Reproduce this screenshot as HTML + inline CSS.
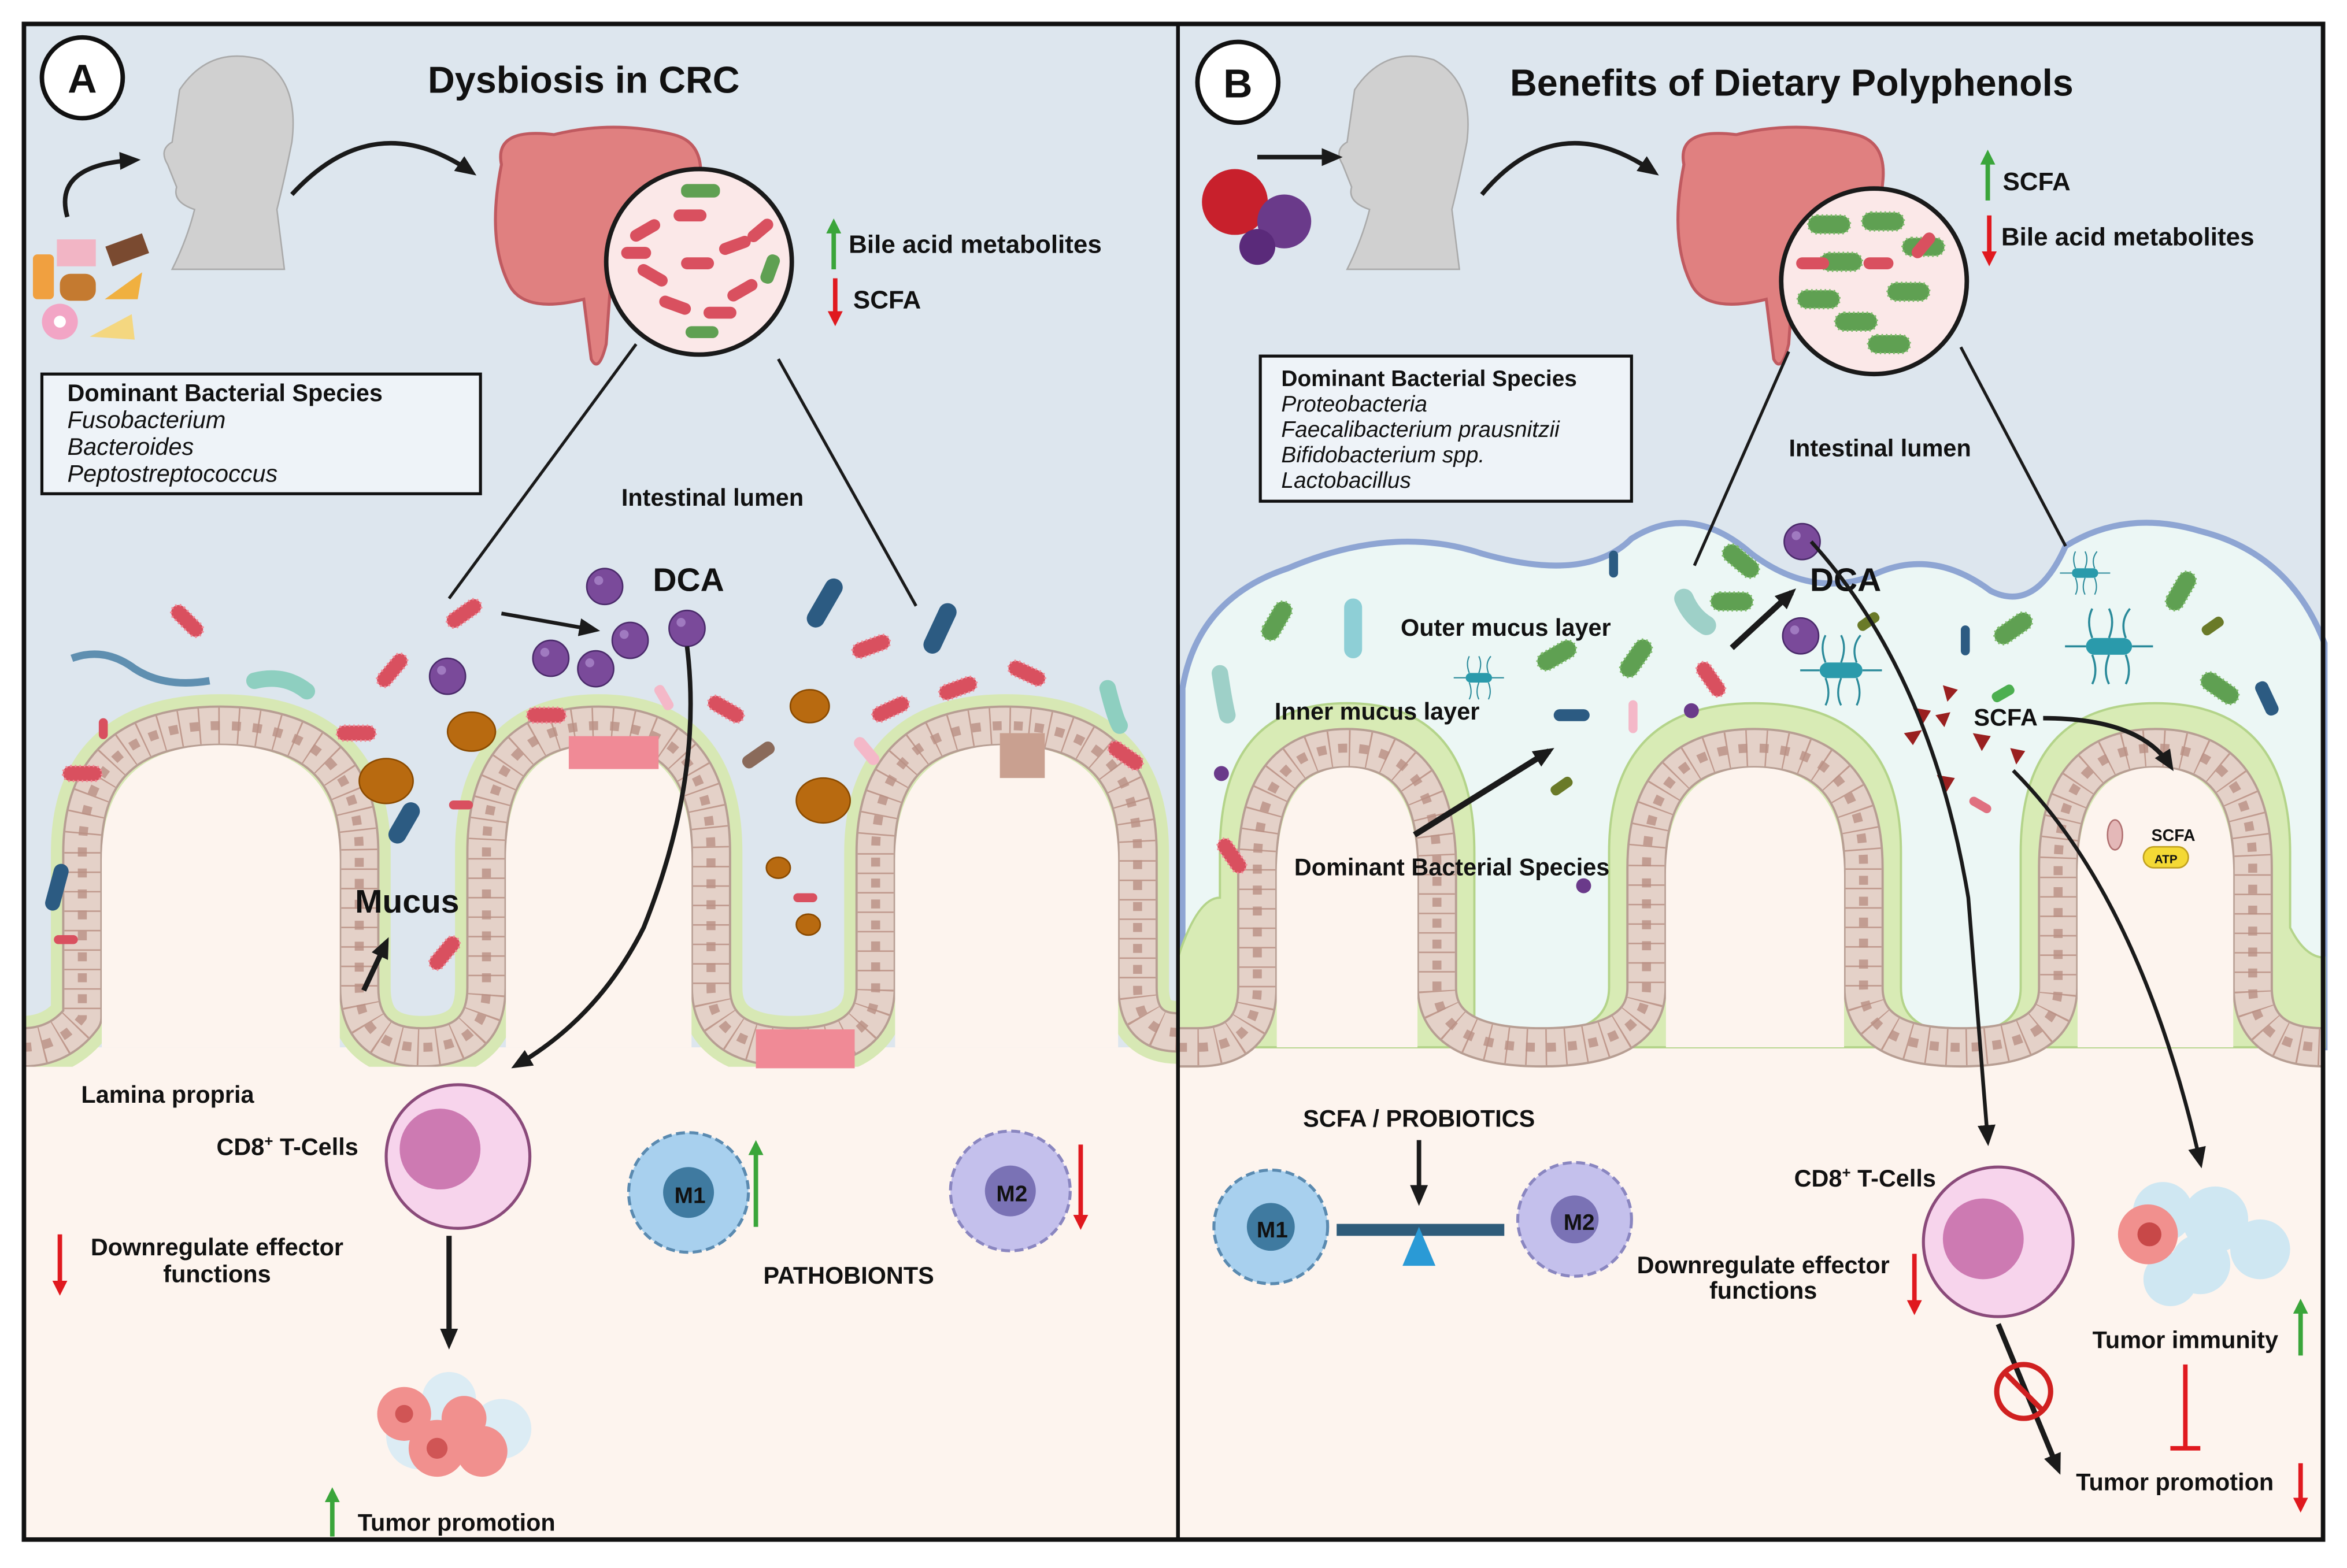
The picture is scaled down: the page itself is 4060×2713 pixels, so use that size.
<!DOCTYPE html>
<html><head><meta charset="utf-8"><style>
html,body{margin:0;padding:0;background:#fff}
svg{display:block}
text{font-family:"Liberation Sans",sans-serif;font-weight:bold;fill:#111}
</style></head><body>
<svg width="4060" height="2713" viewBox="0 0 1568 1048" preserveAspectRatio="none" xmlns="http://www.w3.org/2000/svg">
<defs>
<marker id="ah" markerWidth="14" markerHeight="12" refX="10" refY="6" orient="auto" markerUnits="userSpaceOnUse"><path d="M0,0 L14,6 L0,12 Z" fill="#1a1a1a"/></marker>
<marker id="ahG" markerWidth="10" markerHeight="10" refX="6" refY="5" orient="auto" markerUnits="userSpaceOnUse"><path d="M0,0 L10,5 L0,10 Z" fill="#3aa53a"/></marker>
<marker id="ahR" markerWidth="10" markerHeight="10" refX="6" refY="5" orient="auto" markerUnits="userSpaceOnUse"><path d="M0,0 L10,5 L0,10 Z" fill="#e0191f"/></marker>
<path id="tA" d="M15,700 Q40,700 55,680 L55,570 Q55,485 147,485 Q240,485 240,570 L240,660 Q240,700 282,700 Q325,700 325,660 L325,570 Q325,485 400,485 Q475,485 475,570 L475,660 Q475,700 530,700 Q585,700 585,660 L585,570 Q585,485 672,485 Q760,485 760,570 L760,660 Q760,690 787,690"/>
<path id="tB" d="M787,700 L800,700 Q840,700 840,660 L840,580 Q840,500 900,500 Q960,500 960,580 L960,660 Q960,700 1030,700 Q1100,700 1100,660 L1100,580 Q1100,500 1172,500 Q1245,500 1245,580 L1245,660 Q1245,700 1310,700 Q1375,700 1375,660 L1375,580 Q1375,500 1440,500 Q1505,500 1505,580 L1505,660 Q1505,700 1553,700"/>
<g id="rr"><rect x="-13" y="-5" width="26" height="10" rx="5" fill="#d9505f" stroke="#f08a96" stroke-width="1.5" stroke-dasharray="1 2"/></g>
<g id="gr"><rect x="-14" y="-6" width="28" height="12" rx="6" fill="#5fa052" stroke="#7dbb6a" stroke-width="1.5" stroke-dasharray="1 2"/></g>
<g id="br"><rect x="-12" y="-4" width="24" height="8" rx="4" fill="#2c5b82"/></g>
<g id="tc"><rect x="-11" y="-4" width="22" height="8" rx="4" fill="#2a9aab"/><path d="M-8,-4 q-3,-8 0,-14 M0,-4 q3,-8 0,-14 M8,-4 q-3,-8 2,-14 M-8,4 q3,8 0,14 M0,4 q-3,8 0,14 M8,4 q3,8 0,14 M-11,0 h-10 M11,0 h10" stroke="#2a8a9a" stroke-width="1" fill="none"/></g>
<g id="ps"><circle r="12" fill="#7a4a9a" stroke="#4a2a6a" stroke-width="1"/><circle cx="-4" cy="-4" r="3" fill="#a07ac0"/></g>
</defs>
<rect width="1568" height="1048" fill="#fff"/>
<rect x="15" y="15" width="772" height="1015" fill="#dde6ee"/>
<rect x="15" y="700" width="772" height="330" fill="#fdf4ee"/>
<rect x="787" y="15" width="766" height="1015" fill="#dde6ee"/>
<path d="M790,460 Q800,400 860,380 Q930,350 990,370 Q1060,390 1090,360 Q1130,335 1170,370 Q1210,400 1250,385 Q1290,365 1330,395 Q1360,410 1380,365 Q1420,340 1470,355 Q1530,370 1553,430 L1553,700 L790,700 Z" fill="#ecf7f5" stroke="#8ea5d3" stroke-width="4"/>
<rect x="787" y="700" width="766" height="330" fill="#fdf4ee"/>

<!-- Tissue A -->
<g fill="none" stroke-linejoin="round">
<use href="#tA" stroke="#d7e8b4" stroke-width="42"/>
<use href="#tA" stroke="#b79e93" stroke-width="27"/>
<use href="#tA" stroke="#e4d1c8" stroke-width="24"/>
<use href="#tA" stroke="#c09a8e" stroke-width="24" stroke-dasharray="1 12"/>
<use href="#tA" stroke="#b99085" stroke-width="6" stroke-dasharray="6 8" opacity=".8"/>
</g>
<path d="M68,700 L68,575 Q68,498 147,498 Q227,498 227,575 L227,700 Z M338,700 L338,575 Q338,498 400,498 Q462,498 462,575 L462,700 Z M598,700 L598,575 Q598,498 672,498 Q747,498 747,575 L747,700 Z" fill="#fdf4ee"/>
<rect x="15" y="713" width="772" height="10" fill="#fdf4ee"/>
<!-- Tissue B -->
<path d="M787,700 L787,640 Q800,600 815,600 L815,570 Q815,470 900,470 Q985,470 985,570 L985,680 Q985,690 1030,690 Q1075,690 1075,660 L1075,570 Q1075,470 1172,470 Q1270,470 1270,570 L1270,660 Q1270,690 1310,690 Q1350,690 1350,660 L1350,570 Q1350,470 1440,470 Q1530,470 1530,570 L1530,620 Q1540,640 1553,640 L1553,700 Z" fill="#d8ebb5" stroke="#b4d48a" stroke-width="1.5"/>
<g fill="none" stroke-linejoin="round">
<use href="#tB" stroke="#b79e93" stroke-width="27"/>
<use href="#tB" stroke="#e4d1c8" stroke-width="24"/>
<use href="#tB" stroke="#c09a8e" stroke-width="24" stroke-dasharray="1 12"/>
<use href="#tB" stroke="#b99085" stroke-width="6" stroke-dasharray="6 8" opacity=".8"/>
</g>
<path d="M853,700 L853,585 Q853,513 900,513 Q947,513 947,585 L947,700 Z M1113,700 L1113,585 Q1113,513 1172,513 Q1232,513 1232,585 L1232,700 Z M1388,700 L1388,585 Q1388,513 1440,513 Q1492,513 1492,585 L1492,700 Z" fill="#fdf4ee"/>
<rect x="787" y="714" width="766" height="10" fill="#fdf4ee"/>

<!-- Heads -->
<g fill="#d0d0d0" stroke="#aaa" stroke-width="1">
<path d="M120,60 Q140,30 175,40 Q200,55 195,95 Q190,120 185,140 L190,180 L115,180 Q125,160 130,140 Q115,135 118,125 L112,110 Q106,100 115,95 Z"/>
<path d="M905,60 Q925,30 958,40 Q985,55 980,95 Q975,120 970,140 L975,180 L900,180 Q910,160 915,140 Q900,135 903,125 L897,110 Q891,100 900,95 Z"/>
</g>
<path d="M45,145 Q35,110 90,107" fill="none" stroke="#1a1a1a" stroke-width="3" marker-end="url(#ah)"/>
<path d="M195,130 Q250,70 315,115" fill="none" stroke="#1a1a1a" stroke-width="3" marker-end="url(#ah)"/>
<path d="M840,105 L893,105" stroke="#1a1a1a" stroke-width="3" marker-end="url(#ah)"/>
<path d="M990,130 Q1040,70 1105,115" fill="none" stroke="#1a1a1a" stroke-width="3" marker-end="url(#ah)"/>
<g><rect x="22" y="170" width="14" height="30" rx="3" fill="#f0a040"/><rect x="38" y="160" width="26" height="18" fill="#f2b5c5"/><rect x="72" y="160" width="26" height="14" fill="#7a4a30" transform="rotate(-20 85 167)"/><rect x="40" y="183" width="24" height="18" rx="7" fill="#c47a30"/><path d="M70,200 L95,182 L92,200 Z" fill="#f0b040"/><circle cx="40" cy="215" r="12" fill="#f2a5c5"/><circle cx="40" cy="215" r="4" fill="#fff"/><path d="M60,225 L88,210 L90,227 Z" fill="#f4d780"/></g>
<g><circle cx="825" cy="135" r="22" fill="#c8202c"/><circle cx="858" cy="148" r="18" fill="#6a3a8a"/><circle cx="840" cy="165" r="12" fill="#5a2a7a"/></g>
<path d="M335,110 Q330,85 370,90 Q410,80 450,90 Q470,95 468,120 L465,150 Q420,150 410,160 L405,230 Q400,250 395,240 L390,200 Q350,210 340,190 Q325,160 335,110 Z" fill="#e08080" stroke="#c05a60" stroke-width="2"/>
<path d="M1125,110 Q1120,85 1160,90 Q1200,80 1240,90 Q1260,95 1258,120 L1255,150 Q1210,150 1200,160 L1195,230 Q1190,250 1185,240 L1180,200 Q1140,210 1130,190 Q1115,160 1125,110 Z" fill="#e08080" stroke="#c05a60" stroke-width="2"/>
<path d="M425,230 L300,400 M520,240 L612,405" stroke="#1a1a1a" stroke-width="2" fill="none"/>
<path d="M1195,235 L1132,378 M1310,232 L1380,365" stroke="#1a1a1a" stroke-width="2" fill="none"/>
<circle cx="467" cy="175" r="62" fill="#fbe8e8" stroke="#1a1a1a" stroke-width="3"/>
<g fill="#d9505f"><rect x="420" y="150" width="22" height="8" rx="4" transform="rotate(-30 431 154)"/><rect x="450" y="140" width="22" height="8" rx="4"/><rect x="480" y="160" width="22" height="8" rx="4" transform="rotate(-20 491 164)"/><rect x="425" y="180" width="22" height="8" rx="4" transform="rotate(30 436 184)"/><rect x="455" y="172" width="22" height="8" rx="4"/><rect x="485" y="190" width="22" height="8" rx="4" transform="rotate(-30 496 194)"/><rect x="440" y="200" width="22" height="8" rx="4" transform="rotate(20 451 204)"/><rect x="470" y="205" width="22" height="8" rx="4"/><rect x="415" y="165" width="20" height="8" rx="4"/><rect x="498" y="150" width="20" height="8" rx="4" transform="rotate(-40 508 154)"/></g>
<rect x="455" y="123" width="26" height="9" rx="4" fill="#5fa052"/><rect x="505" y="175" width="20" height="9" rx="4" fill="#5fa052" transform="rotate(-70 515 180)"/><rect x="458" y="218" width="22" height="8" rx="4" fill="#5fa052"/>
<circle cx="1252" cy="188" r="62" fill="#fbe8e8" stroke="#1a1a1a" stroke-width="3"/>
<use href="#gr" x="1222" y="150"/><use href="#gr" x="1258" y="148"/><use href="#gr" x="1230" y="175"/><use href="#gr" x="1275" y="195"/><use href="#gr" x="1240" y="215"/><use href="#gr" x="1285" y="165"/><use href="#gr" x="1215" y="200"/><use href="#gr" x="1262" y="230"/>
<rect x="1200" y="172" width="22" height="8" rx="4" fill="#d9505f"/><rect x="1245" y="172" width="20" height="8" rx="4" fill="#d9505f"/><rect x="1275" y="160" width="20" height="8" rx="4" fill="#d9505f" transform="rotate(-50 1285 164)"/>

<circle cx="55" cy="52" r="27" fill="#fff" stroke="#111" stroke-width="3"/><text x="55" y="62" font-size="27" text-anchor="middle">A</text>
<circle cx="827" cy="55" r="27" fill="#fff" stroke="#111" stroke-width="3"/><text x="827" y="65" font-size="27" text-anchor="middle">B</text>
<text x="390" y="62" font-size="25" text-anchor="middle">Dysbiosis in CRC</text>
<text x="1197" y="64" font-size="25" text-anchor="middle">Benefits of Dietary Polyphenols</text>

<g stroke-width="3">
<path d="M557,180 L557,150" stroke="#3aa53a" marker-end="url(#ahG)"/>
<path d="M558,186 L558,214" stroke="#e0191f" marker-end="url(#ahR)"/>
<path d="M1328,134 L1328,104" stroke="#3aa53a" marker-end="url(#ahG)"/>
<path d="M1329,144 L1329,174" stroke="#e0191f" marker-end="url(#ahR)"/>
<path d="M40,825 L40,862" stroke="#e0191f" marker-end="url(#ahR)"/>
<path d="M505,820 L505,766" stroke="#3aa53a" marker-end="url(#ahG)"/>
<path d="M722,765 L722,818" stroke="#e0191f" marker-end="url(#ahR)"/>
<path d="M222,1027 L222,998" stroke="#3aa53a" marker-end="url(#ahG)"/>
<path d="M1279,838 L1279,875" stroke="#e0191f" marker-end="url(#ahR)"/>
<path d="M1537,906 L1537,872" stroke="#3aa53a" marker-end="url(#ahG)"/>
<path d="M1537,978 L1537,1007" stroke="#e0191f" marker-end="url(#ahR)"/>
</g>
<text x="567" y="169" font-size="17">Bile acid metabolites</text>
<text x="570" y="206" font-size="17">SCFA</text>
<text x="1338" y="127" font-size="17">SCFA</text>
<text x="1337" y="164" font-size="17">Bile acid metabolites</text>

<rect x="28" y="250" width="293" height="80" fill="#eef3f8" stroke="#111" stroke-width="2"/>
<text x="45" y="268" font-size="16">Dominant Bacterial Species</text>
<g font-size="16"><text x="45" y="286" style="font-weight:normal;font-style:italic">Fusobacterium</text><text x="45" y="304" style="font-weight:normal;font-style:italic">Bacteroides</text><text x="45" y="322" style="font-weight:normal;font-style:italic">Peptostreptococcus</text></g>
<rect x="842" y="238" width="248" height="97" fill="#eef3f8" stroke="#111" stroke-width="2"/>
<text x="856" y="258" font-size="15">Dominant Bacterial Species</text>
<g font-size="15"><text x="856" y="275" style="font-weight:normal;font-style:italic">Proteobacteria</text><text x="856" y="292" style="font-weight:normal;font-style:italic">Faecalibacterium prausnitzii</text><text x="856" y="309" style="font-weight:normal;font-style:italic">Bifidobacterium spp.</text><text x="856" y="326" style="font-weight:normal;font-style:italic">Lactobacillus</text></g>

<text x="476" y="338" font-size="16" text-anchor="middle">Intestinal lumen</text>
<text x="1256" y="305" font-size="16" text-anchor="middle">Intestinal lumen</text>

<!-- A bacteria -->
<use href="#rr" transform="translate(125,415) rotate(45)"/><use href="#rr" transform="translate(262,448) rotate(-50)"/><use href="#rr" transform="translate(310,410) rotate(-35)"/><use href="#rr" transform="translate(238,490)"/><use href="#rr" transform="translate(55,517)"/><use href="#rr" transform="translate(365,478)"/><use href="#rr" transform="translate(485,474) rotate(30)"/><use href="#rr" transform="translate(595,474) rotate(-25)"/><use href="#rr" transform="translate(640,460) rotate(-20)"/><use href="#rr" transform="translate(582,432) rotate(-20)"/><use href="#rr" transform="translate(686,450) rotate(25)"/><use href="#rr" transform="translate(752,505) rotate(35)"/><use href="#rr" transform="translate(297,637) rotate(-50)"/>
<rect x="66" y="480" width="6" height="14" rx="3" fill="#d9505f"/><rect x="36" y="625" width="16" height="6" rx="3" fill="#d9505f"/><rect x="530" y="597" width="16" height="6" rx="3" fill="#d9505f"/><rect x="300" y="535" width="16" height="6" rx="3" fill="#d9505f"/>
<rect x="380" y="492" width="60" height="22" fill="#f08a96"/>
<rect x="505" y="688" width="66" height="26" fill="#f08a96"/>
<rect x="668" y="490" width="30" height="30" fill="#c9a090"/>
<g fill="#2c5b82"><rect x="-6" y="-18" width="12" height="36" rx="6" transform="translate(551,403) rotate(30)"/><rect x="-6" y="-18" width="12" height="36" rx="6" transform="translate(628,420) rotate(25)"/><rect x="-6" y="-15" width="12" height="30" rx="6" transform="translate(270,550) rotate(30)"/><rect x="-5" y="-16" width="10" height="32" rx="5" transform="translate(38,593) rotate(15)"/></g>
<path d="M48,440 Q70,432 90,447 Q110,460 140,455" fill="none" stroke="#5f8fb0" stroke-width="5"/>
<path d="M170,455 Q190,450 205,462" fill="none" stroke="#8ecfc0" stroke-width="11" stroke-linecap="round"/>
<path d="M740,460 Q745,480 748,485" fill="none" stroke="#8ecfc0" stroke-width="11" stroke-linecap="round"/>
<rect x="495" y="500" width="24" height="9" rx="4" fill="#8a6a5a" transform="rotate(-35 507 505)"/>
<rect x="568" y="498" width="22" height="8" rx="4" fill="#f4b8c8" transform="rotate(50 579 502)"/>
<rect x="435" y="463" width="18" height="7" rx="3" fill="#f4b8c8" transform="rotate(60 444 466)"/>
<g fill="#b86a10" stroke="#8a4a00"><ellipse cx="315" cy="489" rx="16" ry="13"/><ellipse cx="258" cy="522" rx="18" ry="15"/><ellipse cx="550" cy="535" rx="18" ry="15"/><ellipse cx="541" cy="472" rx="13" ry="11"/><ellipse cx="520" cy="580" rx="8" ry="7"/><ellipse cx="540" cy="618" rx="8" ry="7"/></g>
<use href="#ps" x="404" y="392"/><use href="#ps" x="299" y="452"/><use href="#ps" x="368" y="440"/><use href="#ps" x="398" y="447"/><use href="#ps" x="421" y="428"/><use href="#ps" x="459" y="420"/>
<text x="460" y="395" font-size="22" text-anchor="middle">DCA</text>
<path d="M335,410 L397,421" stroke="#1a1a1a" stroke-width="2.5" marker-end="url(#ah)"/>
<path d="M459,432 Q470,520 430,620 Q400,680 345,712" fill="none" stroke="#1a1a1a" stroke-width="3" marker-end="url(#ah)"/>
<text x="272" y="610" font-size="22" text-anchor="middle">Mucus</text>
<path d="M243,662 L258,630" stroke="#1a1a1a" stroke-width="3.5" marker-end="url(#ah)"/>

<text x="112" y="737" font-size="16" text-anchor="middle">Lamina propria</text>
<text x="192" y="772" font-size="16" text-anchor="middle">CD8<tspan font-size="10" dy="-6">+</tspan><tspan dy="6"> T-Cells</tspan></text>
<circle cx="306" cy="773" r="48" fill="#f7d4ec" stroke="#8a4a7a" stroke-width="2"/>
<circle cx="294" cy="768" r="27" fill="#cd7ab2"/>
<path d="M300,826 L300,898" stroke="#1a1a1a" stroke-width="3.5" marker-end="url(#ah)"/>
<text x="145" y="839" font-size="16" text-anchor="middle">Downregulate effector</text>
<text x="145" y="857" font-size="16" text-anchor="middle">functions</text>
<g><circle cx="280" cy="960" r="22" fill="#dcecf4"/><circle cx="335" cy="955" r="20" fill="#dcecf4"/><circle cx="300" cy="935" r="18" fill="#dcecf4"/><circle cx="270" cy="945" r="18" fill="#f1908e"/><circle cx="292" cy="968" r="19" fill="#f1908e"/><circle cx="322" cy="970" r="17" fill="#f1908e"/><circle cx="310" cy="948" r="15" fill="#f1908e"/><circle cx="292" cy="968" r="7" fill="#d05555"/><circle cx="270" cy="945" r="6" fill="#d05555"/></g>
<text x="305" y="1023" font-size="16" text-anchor="middle">Tumor promotion</text>
<circle cx="460" cy="797" r="40" fill="#a8d0ee" stroke="#5a8ab0" stroke-width="2" stroke-dasharray="6 3"/><circle cx="460" cy="797" r="17" fill="#3f7aa0"/><text x="461" y="804" font-size="15" text-anchor="middle">M1</text>
<circle cx="675" cy="796" r="40" fill="#c4c0ec" stroke="#8a86c0" stroke-width="2" stroke-dasharray="6 3"/><circle cx="675" cy="796" r="17" fill="#7a72b5"/><text x="676" y="803" font-size="15" text-anchor="middle">M2</text>
<text x="567" y="858" font-size="16" text-anchor="middle">PATHOBIONTS</text>

<!-- B bacteria -->
<use href="#gr" transform="translate(853,415) rotate(-60)"/><use href="#gr" transform="translate(1040,438) rotate(-30)"/><use href="#gr" transform="translate(1093,440) rotate(-55)"/><use href="#gr" transform="translate(1163,375) rotate(40)"/><use href="#gr" transform="translate(1157,402)"/><use href="#gr" transform="translate(1345,420) rotate(-35)"/><use href="#gr" transform="translate(1457,395) rotate(-60)"/><use href="#gr" transform="translate(1483,460) rotate(35)"/>
<use href="#rr" transform="translate(1143,454) rotate(55)"/><use href="#rr" transform="translate(823,572) rotate(55)"/>
<use href="#tc" transform="translate(988,453) scale(.8)"/><use href="#tc" transform="translate(1230,448) scale(1.3)"/><use href="#tc" transform="translate(1409,432) scale(1.4)"/><use href="#tc" transform="translate(1393,383) scale(.8)"/>
<rect x="898" y="400" width="12" height="40" rx="6" fill="#8ecfd6"/>
<path d="M815,450 Q818,470 820,478" stroke="#9ed0c8" stroke-width="11" stroke-linecap="round" fill="none"/>
<path d="M1125,400 Q1130,412 1140,418" stroke="#9ed0c8" stroke-width="13" stroke-linecap="round" fill="none"/>
<use href="#br" transform="translate(1050,478)"/><rect x="1075" y="368" width="6" height="18" rx="3" fill="#2c5b82"/><rect x="1310" y="418" width="6" height="20" rx="3" fill="#2c5b82"/><rect x="1510" y="455" width="9" height="24" rx="4" fill="#2c5b82" transform="rotate(-25 1514 467)"/>
<rect x="1240" y="412" width="16" height="7" rx="3" fill="#6a7a28" transform="rotate(-35 1248 415)"/><rect x="1470" y="415" width="16" height="7" rx="3" fill="#6a7a28" transform="rotate(-35 1478 418)"/><rect x="1035" y="522" width="16" height="7" rx="3" fill="#6a7a28" transform="rotate(-35 1043 525)"/>
<rect x="1330" y="460" width="16" height="7" rx="3" fill="#4caf50" transform="rotate(-30 1338 463)"/>
<rect x="1088" y="468" width="6" height="22" rx="3" fill="#f4b8c8"/><rect x="1315" y="535" width="16" height="6" rx="3" fill="#e07080" transform="rotate(30 1323 538)"/>
<circle cx="816" cy="517" r="5" fill="#6a3a8a"/><circle cx="1130" cy="475" r="5" fill="#6a3a8a"/><circle cx="1058" cy="592" r="5" fill="#6a3a8a"/>
<use href="#ps" x="1204" y="362"/><use href="#ps" x="1203" y="425"/>
<g fill="#9a2020"><path d="M1278,473 l12,2 l-6,10z"/><path d="M1293,478 l10,-2 l-4,10z"/><path d="M1272,490 l12,-2 l-6,10z"/><path d="M1298,458 l10,3 l-7,8z"/><path d="M1318,490 l12,2 l-6,10z"/><path d="M1343,500 l10,2 l-6,9z"/><path d="M1294,518 l12,2 l-6,10z"/></g>
<text x="1006" y="425" font-size="16" text-anchor="middle">Outer mucus layer</text>
<text x="920" y="481" font-size="16" text-anchor="middle">Inner mucus layer</text>
<text x="1233" y="395" font-size="22" text-anchor="middle">DCA</text>
<text x="1340" y="485" font-size="16" text-anchor="middle">SCFA</text>
<text x="970" y="585" font-size="16" text-anchor="middle">Dominant Bacterial Species</text>
<path d="M1157,433 L1197,396" stroke="#1a1a1a" stroke-width="4" marker-end="url(#ah)"/>
<path d="M945,558 L1035,502" stroke="#1a1a1a" stroke-width="4" marker-end="url(#ah)"/>
<path d="M1210,362 Q1290,450 1315,600 L1328,762" fill="none" stroke="#1a1a1a" stroke-width="2.5" marker-end="url(#ah)"/>
<path d="M1365,480 Q1430,480 1450,512" fill="none" stroke="#1a1a1a" stroke-width="3" marker-end="url(#ah)"/>
<path d="M1345,515 Q1430,600 1470,777" fill="none" stroke="#1a1a1a" stroke-width="2.5" marker-end="url(#ah)"/>
<ellipse cx="1413" cy="558" rx="5" ry="10" fill="#e4b8b8" stroke="#b07070"/>
<text x="1452" y="562" font-size="11" text-anchor="middle">SCFA</text>
<rect x="1432" y="566" width="30" height="14" rx="7" fill="#f4d935" stroke="#c0a020"/><text x="1447" y="577" font-size="8" text-anchor="middle">ATP</text>

<text x="948" y="753" font-size="16" text-anchor="middle">SCFA / PROBIOTICS</text>
<path d="M948,762 L948,802" stroke="#1a1a1a" stroke-width="3" marker-end="url(#ah)"/>
<rect x="893" y="818" width="112" height="8" fill="#2f5c7a"/>
<path d="M948,820 L937,846 L959,846 Z" fill="#2a9ad6"/>
<circle cx="849" cy="820" r="38" fill="#a8d0ee" stroke="#5a8ab0" stroke-width="2" stroke-dasharray="6 3"/><circle cx="849" cy="820" r="16" fill="#3f7aa0"/><text x="850" y="827" font-size="15" text-anchor="middle">M1</text>
<circle cx="1052" cy="815" r="38" fill="#c4c0ec" stroke="#8a86c0" stroke-width="2" stroke-dasharray="6 3"/><circle cx="1052" cy="815" r="16" fill="#7a72b5"/><text x="1055" y="822" font-size="15" text-anchor="middle">M2</text>
<text x="1246" y="793" font-size="16" text-anchor="middle">CD8<tspan font-size="10" dy="-6">+</tspan><tspan dy="6"> T-Cells</tspan></text>
<text x="1178" y="851" font-size="16" text-anchor="middle">Downregulate effector</text>
<text x="1178" y="868" font-size="16" text-anchor="middle">functions</text>
<circle cx="1335" cy="830" r="50" fill="#f7d4ec" stroke="#8a4a7a" stroke-width="2"/>
<circle cx="1325" cy="828" r="27" fill="#cd7ab2"/>
<path d="M1335,885 L1375,982" stroke="#1a1a1a" stroke-width="3.5" marker-end="url(#ah)"/>
<circle cx="1352" cy="930" r="18" fill="none" stroke="#d02020" stroke-width="3.5"/><path d="M1340,918 L1364,942" stroke="#d02020" stroke-width="3.5"/>
<g><circle cx="1445" cy="810" r="20" fill="#cfe7f2"/><circle cx="1480" cy="815" r="22" fill="#cfe7f2"/><circle cx="1510" cy="835" r="20" fill="#cfe7f2"/><circle cx="1470" cy="845" r="20" fill="#cfe7f2"/><circle cx="1450" cy="855" r="18" fill="#cfe7f2"/><circle cx="1435" cy="825" r="20" fill="#f1908e"/><circle cx="1436" cy="825" r="8" fill="#c84848"/></g>
<text x="1460" y="901" font-size="16" text-anchor="middle">Tumor immunity</text>
<path d="M1460,912 L1460,968 M1450,968 L1470,968" stroke="#e0191f" stroke-width="3"/>
<text x="1453" y="996" font-size="16" text-anchor="middle">Tumor promotion</text>

<rect x="16" y="16" width="1536" height="1013" fill="none" stroke="#111" stroke-width="3"/>
<line x1="787" y1="16" x2="787" y2="1029" stroke="#111" stroke-width="2.5"/>
</svg>
</body></html>
